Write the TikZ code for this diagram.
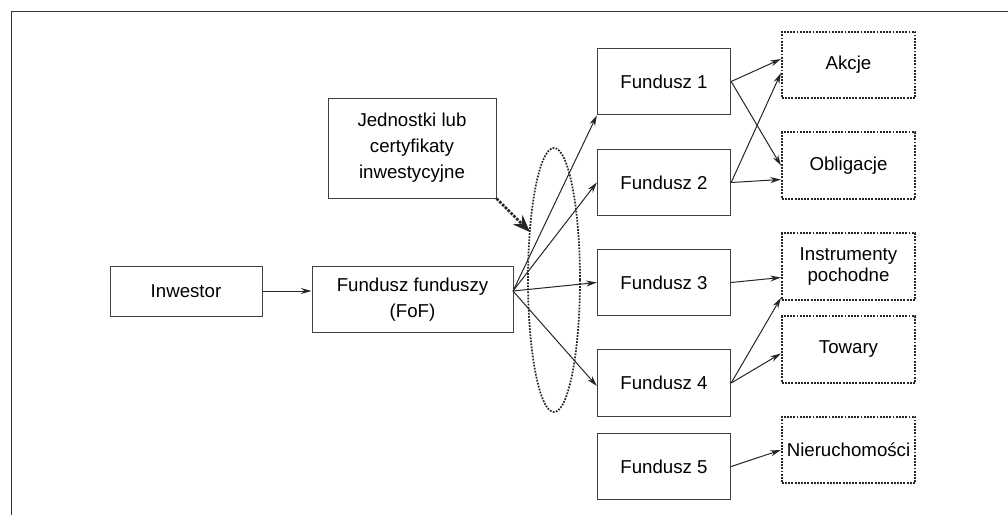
\documentclass[tikz,border=0pt]{standalone}
\usepackage{fontspec}
\setmainfont{Liberation Sans}
\usetikzlibrary{arrows.meta,calc}

\tikzset{every picture/.style={line width=0.75pt}}
\tikzset{
  fundbox/.style={draw=black!75,minimum width=100pt,minimum height=50pt,inner sep=0.75pt,align=center,font=\fontsize{14}{19.5}\selectfont},
  assetbox/.style={draw=black!85,densely dotted,line width=1.4pt,minimum width=100pt,minimum height=50pt,inner sep=0.75pt,align=center,font=\fontsize{14}{19.5}\selectfont},
  flow/.style={draw=black!85,-{Stealth[length=8pt,width=4.5pt]}},
}

\begin{document}
\begin{tikzpicture}[x=0.75pt,y=0.75pt,yscale=-1,xscale=1]
\useasboundingbox (0,0) rectangle (1008,515);

%Straight Lines [id:frame]
\draw [black!80]   (11,515) -- (11,11) -- (1008,11) ;

% Text Node
\node [fundbox,minimum width=114pt,minimum height=37.5pt] (inv) at (186,291) {Inwestor};
% Text Node
\node [fundbox,minimum width=150.75pt] (fof) at (412.5,299.5) {Fundusz funduszy\\(FoF)};
% Text Node
\node [fundbox,minimum width=126pt,minimum height=75pt] (jed) at (412,148) {Jednostki lub\\certyfikaty\\inwestycyjne};

% Text Node
\node [fundbox] (f1) at (664,81.5) {Fundusz 1};
% Text Node
\node [fundbox] (f2) at (664,182.5) {Fundusz 2};
% Text Node
\node [fundbox] (f3) at (664,282.5) {Fundusz 3};
% Text Node
\node [fundbox] (f4) at (664,383) {Fundusz 4};
% Text Node
\node [fundbox] (f5) at (664,466.5) {Fundusz 5};

% Text Node
\node [assetbox] (akcje) at (848.5,65) {Akcje};
% Text Node
\node [assetbox] (oblig) at (848.5,165.5) {Obligacje};
% Text Node
\node [assetbox,font=\fontsize{14}{16}\selectfont] (instr) at (848.5,266.5) {Instrumenty\\pochodne};
% Text Node
\node [assetbox] (towary) at (848.5,349.5) {Towary};
% Text Node
\node [assetbox] (nieruch) at (848.5,450) {Nieruchomości};

%Shape: Ellipse [id:units]
\draw [black!85,densely dotted,line width=1.3pt]  (554,280) ellipse [x radius=26, y radius=132] ;

\coordinate (hub) at (513,291);
\coordinate (dtip) at (530,232);

%Straight Lines [id:inv-fof]
\draw [flow]   (inv.east) -- (inv.east -| fof.west) ;
%Straight Lines [id:fof-funds]
\draw [flow]   (hub) -- (f1.south west) ;
\draw [flow]   (hub) -- (f2.west) ;
\draw [flow]   (hub) -- (f3.west) ;
\draw [flow]   (hub) -- ($(f4.west)+(0,3)$) ;
%Straight Lines [id:units-arrow]
\draw [black!85,densely dotted,line width=2pt,-{Stealth[length=13pt,width=10pt]}]   (jed.south east) -- (dtip) ;

%Straight Lines [id:funds-assets]
\draw [flow]   (f1.east) -- ($(akcje.west)+(0,-6)$) ;
\draw [flow]   (f1.east) -- (oblig.west) ;
\draw [flow]   (f2.east) -- ($(akcje.west)+(0,8)$) ;
\draw [flow]   (f2.east) -- ($(oblig.west)+(0,14)$) ;
\draw [flow]   (f3.east) -- ($(instr.west)+(0,11)$) ;
\draw [flow]   (f4.east) -- ($(instr.south west)+(0,-3)$) ;
\draw [flow]   (f4.east) -- ($(towary.west)+(0,4)$) ;
\draw [flow]   (f5.east) -- (nieruch.west) ;

\end{tikzpicture}
\end{document}
